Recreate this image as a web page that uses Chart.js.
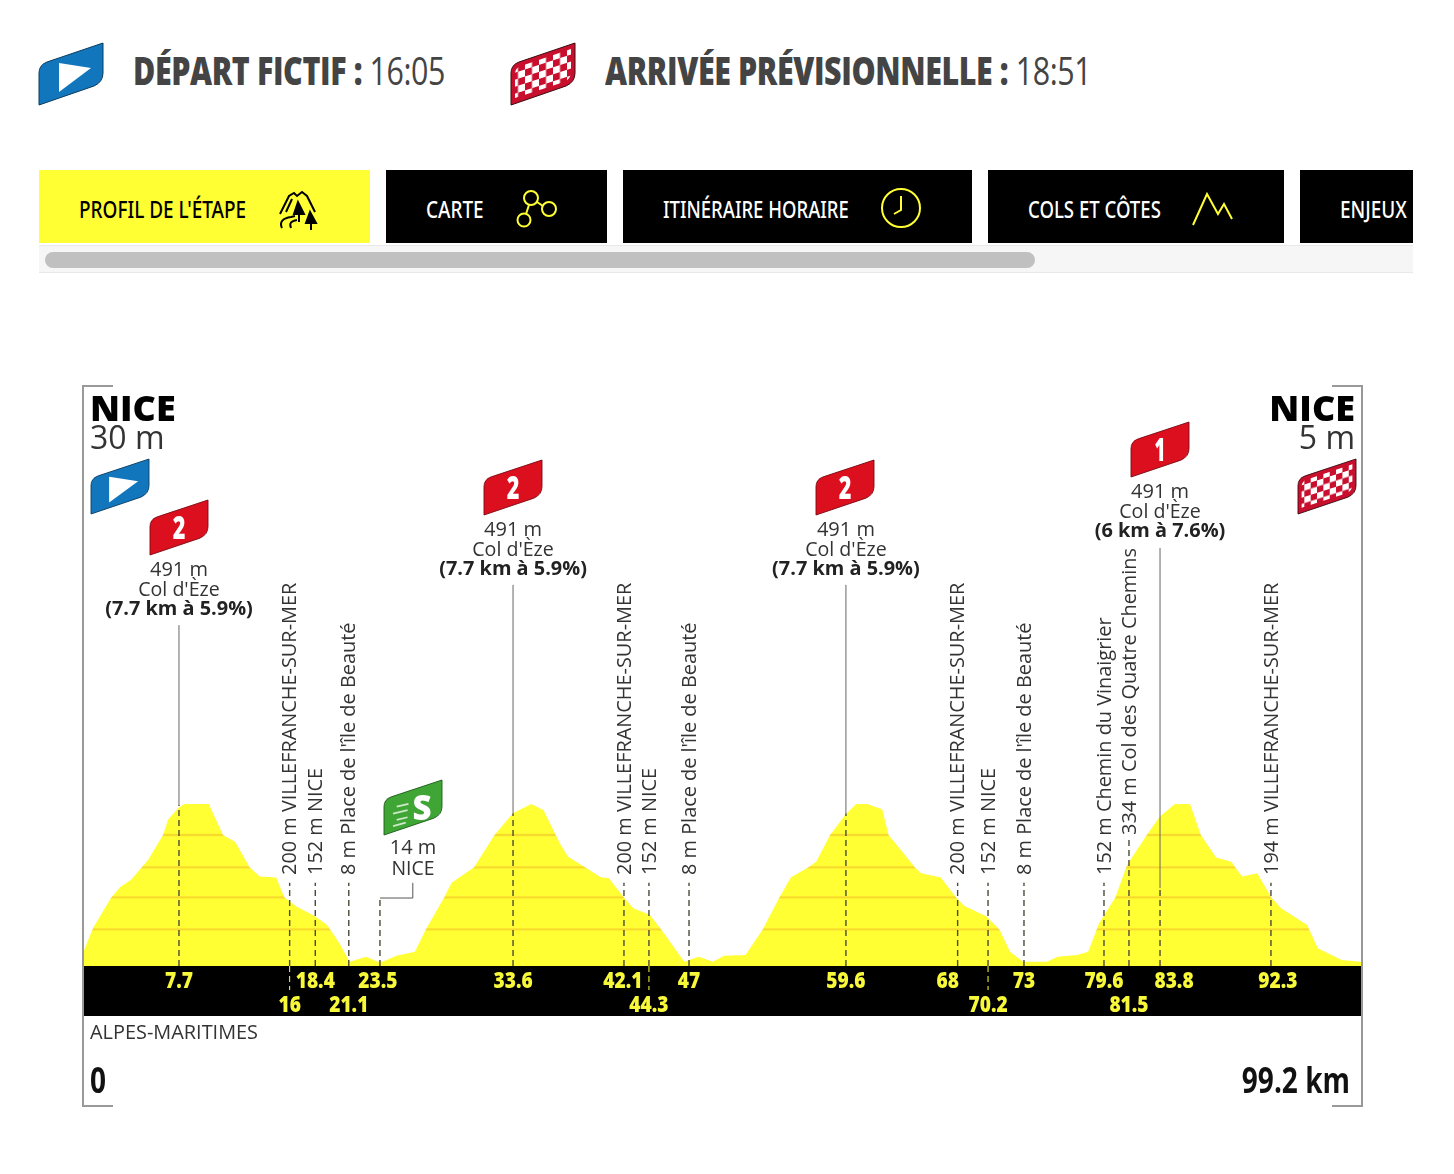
<!DOCTYPE html>
<html lang="fr">
<head>
<meta charset="utf-8">
<title>Profil de l'étape</title>
<script src="https://cdn.jsdelivr.net/npm/chart.js"></script>
<style>
    html, body { margin: 0; padding: 0; background: #fff; }
    body { position: relative; width: 1454px; height: 1174px; overflow: hidden; font-family: "Open Sans", sans-serif; }
    canvas { position: absolute; left: 0; top: 0; }
    .abs { position: absolute; }
    .head { top: 45px; font-size: 38px; line-height: 50px; color: #444; white-space: nowrap; transform-origin: left center; letter-spacing: -0.5px; }
    .head b { font-weight: 800; }
    .tabs { left: 39px; top: 170px; width: 1374px; height: 73px; overflow: hidden; }
    .tab { position: absolute; top: 0; height: 73px; background: #000; color: #fff; }
    .tab.on { background: #ffff33; color: #000; }
    .tab span { position: absolute; left: 40px; top: 21px; font-size: 24px; line-height: 36px; font-weight: 500; white-space: nowrap; transform: scaleX(.79); transform-origin: left center; font-family: "Noto Sans", sans-serif; }
    .tab svg { position: absolute; fill: none; stroke-width: 2; }
    .track { left: 39px; top: 245px; width: 1374px; height: 28px; background: #f6f6f6; border-top: 1px solid #e8e8e8; border-bottom: 1px solid #e8e8e8; box-sizing: border-box; }
    .thumb { left: 45px; top: 252px; width: 990px; height: 16px; background: #c0c0c0; border-radius: 8px; }
    .flag { position: absolute; overflow: visible; }
    .flag text { font-family: "Open Sans", sans-serif; font-weight: 800; fill: #fff; text-anchor: middle; }
</style>
</head>
<body>

<svg width="0" height="0" style="position:absolute">
    <defs>
        <pattern id="checks" width="14" height="14" patternUnits="userSpaceOnUse" patternTransform="translate(0 3) skewY(-18)">
            <rect width="14" height="14" fill="#fff"></rect>
            <rect width="7" height="7" fill="#c8102e"></rect>
            <rect x="7" y="7" width="7" height="7" fill="#c8102e"></rect>
        </pattern>
        <path id="flagShape" d="M0 62 V30 Q0 22 8 19 L64 0 V30 Q64 39 55 43 Z"></path>
    </defs>
</svg>

<svg class="flag" style="left:39px;top:43px" width="64" height="62" viewBox="0 0 64 62">
    <use href="#flagShape" fill="#1276bc" stroke="#0b3c60" stroke-width="1"></use>
    <path d="M20 20 L52 25 L20 49 Z" fill="#fff"></path>
</svg>
<div class="abs head" style="left:133px;transform:scaleX(.8)"><b>DÉPART FICTIF :</b> 16:05</div>

<svg class="flag" style="left:511px;top:43px" width="64" height="62" viewBox="0 0 64 62">
    <use href="#flagShape" fill="#c8102e" stroke="#3c0a10" stroke-width="1"></use>
    <path d="M4 55 V31 Q4 25 10 23 L60 6 V29 Q60 36 53 39 Z" fill="url(#checks)"></path>
</svg>
<div class="abs head" style="left:605px;transform:scaleX(.8)"><b>ARRIVÉE PRÉVISIONNELLE :</b> 18:51</div>

<div class="abs tabs">
    <div class="tab on" style="left:0;width:331px">
        <span>PROFIL DE L'ÉTAPE</span>
        <svg style="left:238px;top:20px" width="44" height="40" viewBox="0 0 44 40" stroke="#000">
            <path d="M3 24 L12 6 L17 3 L20 6 L25 2 L30 6 L38 22"></path>
            <path d="M9 22 L15 9"></path>
            <path d="M5 38 C2 32 6 28 14 27 L18 26"></path>
            <path d="M14 38 C12 33 14 31 20 30"></path>
            <path d="M21 12 L17 24 H27 Z M22 24 V32 M33 22 L29 33 H39 Z M34 33 V40" fill="#000"></path>
        </svg>
    </div>
    <div class="tab" style="left:347px;width:221px">
        <span>CARTE</span>
        <svg style="left:130px;top:20px" width="44" height="38" viewBox="0 0 44 38" stroke="#ffff33">
            <circle cx="15" cy="8" r="7"></circle>
            <circle cx="33" cy="19" r="7"></circle>
            <circle cx="8" cy="30" r="6.5"></circle>
            <path d="M21 12 L27 16 M13 15 L10 24"></path>
        </svg>
    </div>
    <div class="tab" style="left:584px;width:349px">
        <span style="transform:scaleX(.77)">ITINÉRAIRE HORAIRE</span>
        <svg style="left:257px;top:17px" width="42" height="42" viewBox="0 0 42 42" stroke="#ffff33">
            <circle cx="21" cy="21" r="19"></circle>
            <path d="M21 9 V23 L14 27"></path>
        </svg>
    </div>
    <div class="tab" style="left:949px;width:296px">
        <span style="transform:scaleX(.773)">COLS ET CÔTES</span>
        <svg style="left:204px;top:22px" width="42" height="34" viewBox="0 0 42 34" stroke="#ffff33">
            <path d="M1 33 L15 2 L26 22 L32 12 L40 27"></path>
        </svg>
    </div>
    <div class="tab" style="left:1261px;width:140px">
        <span>ENJEUX</span>
    </div>
</div>
<div class="abs track"></div>
<div class="abs thumb"></div>

<canvas id="myChart" width="1454" height="1174"></canvas>

<svg class="flag" style="left:91px;top:459px" width="58" height="55" viewBox="0 0 64 62" preserveAspectRatio="none">
    <use href="#flagShape" fill="#1276bc" stroke="#0b3c60"></use>
    <path d="M20 20 L52 25 L20 49 Z" fill="#fff"></path>
</svg>
<svg class="flag" style="left:1298px;top:459px" width="58" height="55" viewBox="0 0 64 62" preserveAspectRatio="none">
    <use href="#flagShape" fill="#c8102e" stroke="#3c0a10"></use>
    <path d="M4 55 V31 Q4 25 10 23 L60 6 V29 Q60 36 53 39 Z" fill="url(#checks)"></path>
</svg>
<svg class="flag" style="left:150px;top:500px" width="58" height="55" viewBox="0 0 64 62" preserveAspectRatio="none">
    <use href="#flagShape" fill="#dc0f1e" stroke="#7a0a12"></use><text x="32" y="44" font-size="36" textLength="14" lengthAdjust="spacingAndGlyphs">2</text>
</svg>
<svg class="flag" style="left:484px;top:460px" width="58" height="55" viewBox="0 0 64 62" preserveAspectRatio="none">
    <use href="#flagShape" fill="#dc0f1e" stroke="#7a0a12"></use><text x="32" y="44" font-size="36" textLength="14" lengthAdjust="spacingAndGlyphs">2</text>
</svg>
<svg class="flag" style="left:816px;top:460px" width="58" height="55" viewBox="0 0 64 62" preserveAspectRatio="none">
    <use href="#flagShape" fill="#dc0f1e" stroke="#7a0a12"></use><text x="32" y="44" font-size="36" textLength="14" lengthAdjust="spacingAndGlyphs">2</text>
</svg>
<svg class="flag" style="left:1131px;top:422px" width="58" height="55" viewBox="0 0 64 62" preserveAspectRatio="none">
    <use href="#flagShape" fill="#dc0f1e" stroke="#7a0a12"></use><text x="32" y="44" font-size="36" textLength="12" lengthAdjust="spacingAndGlyphs">1</text>
</svg>
<svg class="flag" style="left:384px;top:780px" width="58" height="55" viewBox="0 0 64 62" preserveAspectRatio="none">
    <use href="#flagShape" fill="#3fa535" stroke="#1d5c1a"></use>
    <path d="M14 30 L27 27 M10 38 L26 34 M14 45 L26 42 M10 52 L24 48" stroke="#cfe8cb" stroke-width="2" fill="none"></path>
    <text x="42" y="45" font-size="40" textLength="21" lengthAdjust="spacingAndGlyphs">S</text>
</svg>

<script>
// profile: km along the route, metres of altitude
const profileKm = [
    0, 0.08, 0.78, 2.17, 2.87, 3.73, 5.05, 6.21, 6.6, 7.39, 7.86, 9.76, 10.87, 11.82, 12.93, 13.72, 14.99, 15.63,
    16.57, 18, 18.95, 19.9, 20.69, 21.17, 21.96, 22.91, 23.3, 24.33, 25.76, 26.62, 28.04, 28.61, 30.36, 31.94,
    33.37, 34.79, 35.74, 37.01, 37.65, 38.97, 40.18, 40.81, 41.98, 42.71, 43.98, 44.87, 46.67, 47.78, 48.9,
    49.75, 51.42, 52.77, 54.06, 54.96, 56.31, 56.91, 57.99, 59.17, 60.01, 60.85, 62.03, 62.53, 63.71, 64.56,
    65.06, 66.58, 67.76, 68.42, 70.11, 71.12, 71.96, 72.97, 74.82, 75.66, 77.18, 78.02, 78.86, 80.14, 81.04,
    82.57, 83.57, 84.75, 85.93, 86.77, 87.95, 89.13, 89.97, 91.15, 92.22, 93, 95.02, 95.85, 97.7, 99.2
];
const profileAlt = [
    20, 48, 115, 206, 239, 261, 321, 397, 443, 479, 491, 491, 397, 376, 299, 271, 268, 208,
    180, 151, 124, 69, 13, 18, 28, 13, 14, 31, 43, 111, 208, 252, 299, 397,
    463, 491, 473, 372, 331, 299, 269, 266, 208, 175, 155, 111, 13, 28, 13,
    31, 33, 111, 208, 269, 299, 316, 397, 458, 491, 491, 475, 397, 341, 299,
    281, 268, 208, 182, 151, 111, 43, 13, 13, 28, 33, 43, 129, 208, 306,
    397, 452, 491, 491, 397, 329, 316, 271, 281, 208, 175, 124, 54, 18, 13
];
const bandAlt = [111, 208, 299, 397];

// km marks: printed value and where the tick really sits on the axis
const markerLabels = ['7.7', '16', '18.4', '21.1', '23.5', '33.6', '42.1', '44.3', '47', '59.6', '68', '70.2', '73', '79.6', '81.5', '83.8', '92.3'];
const markerKm = [7.45, 16.04, 18.03, 20.63, 23.05, 33.38, 41.99, 43.93, 47.04, 59.22, 67.89, 70.25, 73.04, 79.25, 81.19, 83.6, 92.21];
const markerTop = [488, 252, 252, 252, 206, 463, 252, 252, 252, 463, 252, 252, 252, 252, 388, 236, 252];
const markerBelow = [0, 73, 0, 0, 0, 0, 0, 73, 0, 0, 0, 73, 0, 0, 0, 0, 0];

const colKm = [7.45, 33.38, 59.22, 83.6];
const colLabelTop = [1033, 1155, 1155, 1267];
const colAlt = ['491 m', '491 m', '491 m', '491 m'];
const colName = ["Col d'Èze", "Col d'Èze", "Col d'Èze", "Col d'Èze"];
const colDetail = ['(7.7 km à 5.9%)', '(7.7 km à 5.9%)', '(7.7 km à 5.9%)', '(6 km à 7.6%)'];

const placeKm = [16.04, 18.03, 20.63, 41.99, 43.93, 47.04, 67.89, 70.25, 73.04, 79.25, 81.19, 92.21];
const placeNames = [
    '200 m VILLEFRANCHE-SUR-MER', '152 m NICE', "8 m Place de l'île de Beauté",
    '200 m VILLEFRANCHE-SUR-MER', '152 m NICE', "8 m Place de l'île de Beauté",
    '200 m VILLEFRANCHE-SUR-MER', '152 m NICE', "8 m Place de l'île de Beauté",
    '152 m Chemin du Vinaigrier', '334 m Col des Quatre Chemins', '194 m VILLEFRANCHE-SUR-MER'
];
const sprintKm = [23.05, 25.6];
const totalKm = 99.2;

const secondRow = ['16', '21.1', '44.3', '70.2', '81.5'];
const labelShift = { '23.5': -2, '42.1': -1, '68': -10, '83.8': 14, '92.3': 7 };

function pts(xs, ys) {
    return xs.map((x, i) => ({ x: x, y: ys[i] }));
}

function thinLine(data, color, dash, width) {
    return { data: data, borderColor: color, borderWidth: width || 1, borderDash: dash || [], fill: false, pointRadius: 0 };
}

const datasets = [];
markerKm.forEach((km, i) => {
    datasets.push(thinLine(pts([km, km], [0, markerTop[i]]), '#4a4a3a', [6, 4], 1.4));
    if (markerBelow[i]) datasets.push(thinLine(pts([km, km], [0, -markerBelow[i]]), '#ffff33', [6, 4]));
});
colKm.forEach((km, i) => {
    datasets.push(thinLine(pts([km, km], [markerTop[markerKm.indexOf(km)], colLabelTop[i]]), '#666'));
});
datasets.push(thinLine(pts([sprintKm[0], sprintKm[1], sprintKm[1]], [206, 206, 252]), '#555'));

datasets.push({
    data: pts(profileKm, profileAlt),
    borderWidth: 0,
    pointRadius: 0,
    fill: { value: 0 },
    backgroundColor: function (ctx) {
        const area = ctx.chart.chartArea;
        if (!area) return '#ffff33';
        const y = ctx.chart.scales.y;
        const g = ctx.chart.ctx.createLinearGradient(0, area.top, 0, area.bottom);
        const stop = (alt) => (y.getPixelForValue(alt) - area.top) / (area.bottom - area.top);
        g.addColorStop(0, '#ffff33');
        bandAlt.slice().reverse().forEach((alt) => {
            g.addColorStop(stop(alt + 5), '#ffff33');
            g.addColorStop(stop(alt + 1.5), '#f8d92e');
            g.addColorStop(stop(alt - 1.5), '#f8d92e');
            g.addColorStop(stop(alt - 5), '#ffff33');
        });
        g.addColorStop(1, '#ffff33');
        return g;
    }
});
datasets.push({
    data: pts([0, totalKm], [0, 0]),
    borderWidth: 0,
    pointRadius: 0,
    fill: { value: -151.5 },
    backgroundColor: '#000'
});

function label(ctx, text, x, y, font, color, align, squeeze, angle) {
    ctx.save();
    ctx.translate(x, y);
    if (angle) ctx.rotate(angle);
    ctx.scale(squeeze || 1, 1);
    ctx.font = font;
    ctx.fillStyle = color;
    ctx.textAlign = align || 'center';
    ctx.textBaseline = 'middle';
    ctx.fillText(text, 0, 0);
    ctx.restore();
}

const annotations = {
    id: 'annotations',
    afterDraw(chart) {
        const ctx = chart.ctx;
        const x = chart.scales.x;
        const px = (km) => x.getPixelForValue(km);

        // bracket frame
        ctx.strokeStyle = '#999';
        ctx.lineWidth = 2;
        ctx.beginPath();
        ctx.moveTo(113, 386); ctx.lineTo(83, 386); ctx.lineTo(83, 1106); ctx.lineTo(113, 1106);
        ctx.moveTo(1332, 386); ctx.lineTo(1362, 386); ctx.lineTo(1362, 1106); ctx.lineTo(1332, 1106);
        ctx.stroke();

        label(ctx, 'NICE', 90, 411, '800 36px "Open Sans"', '#000', 'left', 1);
        label(ctx, '30 m', 90, 440, '32px "Open Sans"', '#333', 'left');
        label(ctx, 'NICE', 1355, 411, '800 36px "Open Sans"', '#000', 'right', 1);
        label(ctx, '5 m', 1355, 440, '32px "Open Sans"', '#333', 'right');

        colKm.forEach((km, i) => {
            const bottom = [609, 569, 569, 531][i];
            const c = px(km);
            label(ctx, colAlt[i], c, bottom - 39, '20px "Open Sans"', '#333', 'center', 1);
            label(ctx, colName[i], c, bottom - 19, '20px "Open Sans"', '#333', 'center', 0.98);
            label(ctx, colDetail[i], c, bottom, '700 20px "Open Sans"', '#222', 'center', 0.995);
        });

        placeKm.forEach((km, i) => {
            const bottom = placeNames[i].startsWith('334') ? 835 : 875;
            label(ctx, placeNames[i], px(km) + 1, bottom, '20px "Open Sans"', '#333', 'left', 0.995, -Math.PI / 2);
        });

        label(ctx, '14 m', 413, 848, '20px "Open Sans"', '#333', 'center', 1);
        label(ctx, 'NICE', 413, 869, '20px "Open Sans"', '#333', 'center', 0.97);

        markerLabels.forEach((text, i) => {
            const y = secondRow.includes(text) ? 1006 : 982;
            label(ctx, text, px(markerKm[i]) + (labelShift[text] || 0), y, '800 22px "Open Sans"', '#f8f83a', 'center', 0.87);
        });

        label(ctx, 'ALPES-MARITIMES', 90, 1033, '20px "Open Sans"', '#333', 'left', 0.995);
        label(ctx, '0', 90, 1083, '700 35px "Open Sans"', '#111', 'left', 0.8);
        label(ctx, totalKm + ' km', 1350, 1083, '700 35px "Open Sans"', '#111', 'right', 0.8);
    }
};

new Chart(document.getElementById('myChart'), {
    type: 'line',
    data: { datasets: datasets },
    plugins: [annotations],
    options: {
        responsive: false,
        animation: false,
        layout: { padding: { left: 83, right: 93, top: 306, bottom: 158 } },
        plugins: { legend: { display: false }, tooltip: { enabled: false } },
        scales: {
            x: { type: 'linear', min: 0, max: totalKm, display: false },
            y: { min: -151.5, max: 2000, display: false }
        }
    }
});
</script>
</body>
</html>
